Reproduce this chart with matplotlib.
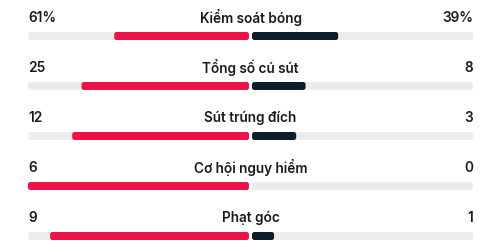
from matplotlib import pyplot as plt
from matplotlib.patches import FancyBboxPatch

# stats (home left, away right)
labels = ['Kiểm soát bóng', 'Tổng số cú sút', 'Sút trúng đích', 'Cơ hội nguy hiểm', 'Phạt góc']
home = [61, 25, 12, 6, 9]
away = [39, 8, 3, 0, 1]
suffix = ['%', '', '', '', '']

RED = '#EF1249'
DARK = '#0C1E2A'
TRACK = '#ECECEC'
TXT = '#1A1A1A'

plt.rcParams['font.family'] = ['Inter', 'DejaVu Sans']

fig = plt.figure(figsize=(5, 2.52), dpi=100)
ax = fig.add_axes([0, 0, 1, 1])
ax.set_xlim(0, 500)
ax.set_ylim(252, 0)
ax.axis('off')

center = 250.5
gap = 1.5
half = 221
bar_h = 8
row_h = 50


def rbar(x0, x1, yc, color):
    #rounded bar in pixel-like data units
    if x1 - x0 <= 0:
        return
    r = min(2.5, (x1 - x0) / 2)
    p = FancyBboxPatch((x0, yc - bar_h / 2), x1 - x0, bar_h,
                       boxstyle=f'round,pad=0,rounding_size={r}',
                       fc=color, ec='none')
    ax.add_patch(p)


for i, lab in enumerate(labels):
    ty = 18 + i * row_h
    by = 36 + i * row_h
    total = home[i] + away[i]
    hf = home[i] / total if total else 0
    af = away[i] / total if total else 0

    #background tracks
    rbar(center - gap - half, center - gap, by, TRACK)
    rbar(center + gap, center + gap + half, by, TRACK)
    #value bars
    rbar(center - gap - hf * half, center - gap, by, RED)
    rbar(center + gap, center + gap + af * half, by, DARK)

    ax.text(center - gap - half, ty, f'{home[i]}{suffix[i]}', ha='left', va='center',
            fontsize=9.8, fontweight='semibold', color=TXT)
    ax.text(center + gap + half, ty, f'{away[i]}{suffix[i]}', ha='right', va='center',
            fontsize=9.8, fontweight='semibold', color=TXT)
    ax.text(center, ty, lab, ha='center', va='center',
            fontsize=9.8, fontweight='semibold', color=TXT)

fig.savefig('out.png', dpi=100)
